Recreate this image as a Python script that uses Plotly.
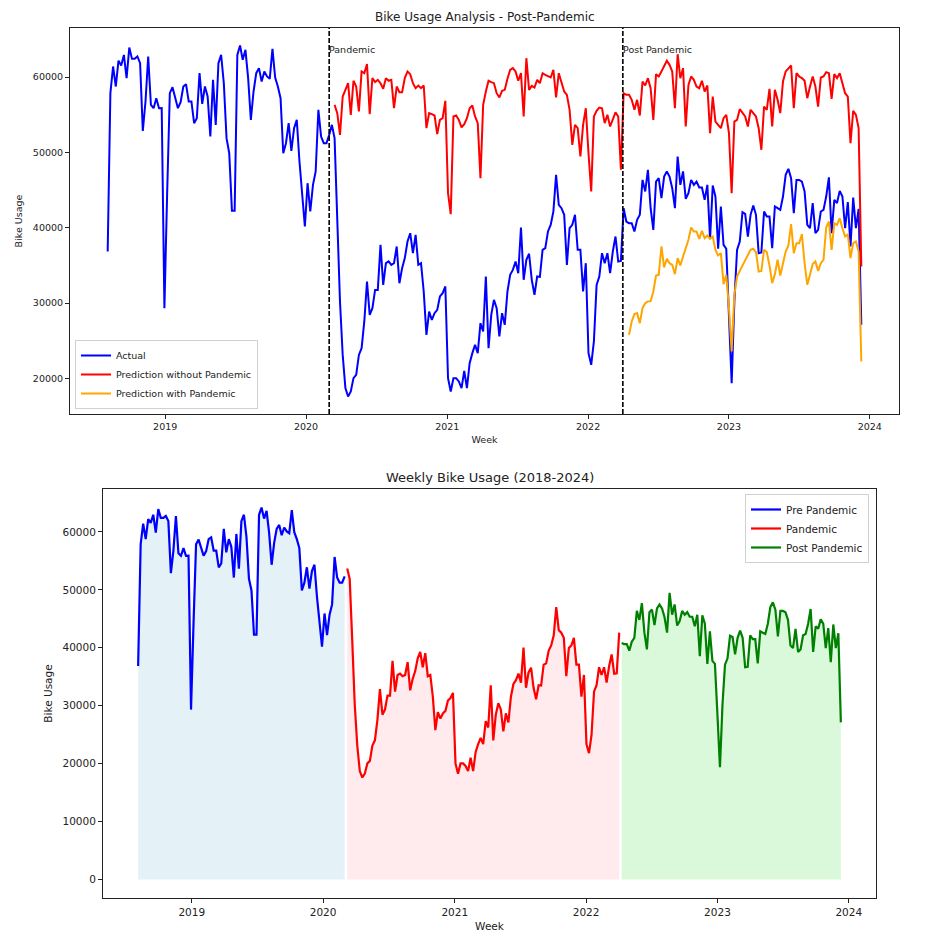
import pandas as pd
import plotly.graph_objects as go

# ---------------- data ----------------
start_week = "2018-08-05"

actual = [
    36850, 57875, 61420, 58760, 62200, 61550, 62960, 59870, 63940, 62430,
    62430, 62750, 61860, 52870, 56770, 62750, 56320, 55880, 57210, 55880,
    55900, 29320, 44370, 57870, 58670, 57430, 55880, 56680, 58760, 59070,
    56770, 56770, 53890, 54550, 60530, 56460, 58760, 57430, 52120, 59650,
    53670, 61860, 62960, 59200, 51900, 49900, 42250, 42250, 62960, 64200,
    62300, 63630, 59870, 54330, 58100, 60530, 61200, 59430, 60760, 60090,
    59780, 63760, 59960, 58760, 57210, 49900, 51230, 53890, 50220, 53230,
    54330, 48800, 43930, 40170, 45920, 42160, 45700, 47480, 55670, 52120,
    51230, 51230, 52340, 53670, 51900, 41270, 30210, 23120, 18700, 17600,
    18260, 20030, 20470, 23120, 24010, 27560, 32870, 28440, 29330, 31750,
    31750, 37730, 32420, 35300, 35530, 35080,
    35300, 37520, 32640, 34640, 35970, 38180, 39280, 36630, 39060, 35080,
    35300, 31540, 25780, 28880, 27770, 28660, 29100, 30880, 31320, 32210,
    20030, 18260, 20030, 20030, 19590, 18700, 21000, 18700, 22020, 23350,
    24450, 23350, 27330, 26230, 33530, 24010, 28440, 30430, 29330, 25570,
    28660, 27110, 31540, 33750, 34410, 35530, 33970, 40040, 33090, 35750,
    36550, 33090, 31100,
    33530, 33480, 37070, 37300, 39510, 40390, 42160, 47030, 43040, 42600,
    41720, 35080, 39940, 40390, 41720, 37070, 37070, 31540, 35300, 23350,
    21800, 24900, 32420, 33530, 36630, 35300, 36630, 33970, 36850, 38840,
    35530, 35600, 42600, 40830, 40610, 40610, 39510, 41050, 41720, 46360,
    44820, 47700, 42600, 39720, 46140, 46580, 43930, 46800, 47480, 46800,
    45260, 42600, 49470,
    45700, 47480, 43840, 44600, 46360, 45700, 46140, 45350, 45350, 43710,
    45700, 38530, 45610, 44150, 37210, 42830, 37730, 37210, 28440, 19370,
    30210, 37070, 38180, 42070, 41850, 38840, 41720, 42960, 41720, 36630,
    36720, 42160, 41500, 41500, 37300, 42830, 42600, 42380, 44150, 47030,
    47830, 46580, 41940, 46360, 46360, 46140, 44820, 40390, 39940, 43270,
    39280, 39720, 42160, 42380, 44150, 46690, 39280, 43710, 43270, 44900,
    44150, 39940, 43400, 37520, 44020, 39940, 42510, 27110,
]

pred_without_pandemic = [
    56320, 55220, 52340, 57430, 58320, 59200, 55000, 59520, 58760, 55450,
    60760, 60530, 61730, 55100, 59870, 59350, 59650, 59200, 58450, 59870,
    59520, 59650,
    55880, 58760, 58010, 58010, 59870, 60760, 60400, 59200, 58540, 58890,
    58540, 58890, 53230, 55220, 55100, 54910, 52430, 54330, 54550, 56850,
    44600, 41810, 54780, 54910, 54330, 53320, 53760, 54550, 55880, 56240,
    54780, 53890, 46580, 56320, 58100, 59520, 59350, 59200, 57870, 57300,
    58190, 58320, 59780, 60980, 61200, 60760, 59520, 60530, 54780, 62520,
    58320, 58850, 58630,
    59650, 59200, 60530, 60310, 60090, 59960, 60980, 57300, 60530, 59200,
    58100, 57650, 55670, 51010, 53670, 53230, 49470, 53670, 55880, 49900,
    44820, 54780, 55540, 55970, 55880, 53890, 55000, 53450, 54550, 55330,
    54780, 47700, 57870, 57650, 57650, 56990, 55670, 56990, 54910, 59430,
    58890, 59870, 58540, 54330, 60400, 60090, 60760, 61420, 62170, 61640,
    60760, 55880, 63050, 59870,
    61200, 53450, 58980, 60090, 59650, 58760, 58540, 59520, 58100, 58890,
    52560, 57430, 54110, 53670, 53230, 54550, 55000, 52560, 44600, 54110,
    54330, 55750, 55220, 54780, 53450, 55670, 55220, 54780, 53230, 50360,
    56090, 55670, 58450, 53450, 58320, 56990, 55220, 59430, 60760, 61110,
    61550, 55880, 60530, 60090,
    59870, 59520, 57210, 58760, 60090, 58760, 56090, 59960, 60090, 60660,
    60530, 57120, 60400, 59870, 60530, 59200, 57870, 57430, 51230, 55540,
    55000, 53230, 34860,
]

pred_with_pandemic = [
    25780, 27560, 28530, 28660, 27330, 29330, 29990, 30210, 30250, 31540,
    33660, 33750, 37520, 34730, 35880, 35300, 35080, 33840, 35970, 35000,
    36190, 37300, 38400, 40040, 39510, 39510, 38530, 39600, 38620, 38970,
    38530, 38840, 37070, 36320, 36630, 32510, 33750, 29330, 23570, 31100,
    33530, 34280, 35000, 35530, 36410, 37070, 37210, 36770, 34190, 34280,
    37070, 36770, 35000, 32640, 33840, 35750, 33660, 35080, 36850, 37650,
    40480, 36630, 37960, 37960,
    39150, 35300, 32420, 33750, 35200, 35530, 34280, 35300, 35750, 40040,
    40830, 37070, 40610, 40390, 41270, 39940, 38840, 39150, 35970, 37960,
    38180, 36850, 22240,
]

event_dates = ["2020-03-01", "2022-04-01"]
event_labels = ["Pandemic", "Post Pandemic"]

phase_names = ["Pre Pandemic", "Pandemic", "Post Pandemic"]
phase_breaks = ["2020-03-05", "2022-04-05"]
phase_colors = ["blue", "red", "green"]
phase_fills = ["rgba(173,216,230,0.33)", "rgba(255,192,203,0.33)", "rgba(144,238,144,0.33)"]

# ---------------- derived ----------------
weeks = pd.date_range(start_week, periods=len(actual), freq="7D")
s = pd.Series(actual, index=weeks)
pred_no = pd.Series(pred_without_pandemic, index=weeks[-len(pred_without_pandemic):])
pred_with = pd.Series(pred_with_pandemic, index=weeks[-len(pred_with_pandemic):])

span = weeks[-1] - weeks[0]
x_range = [weeks[0] - span * 0.05, weeks[-1] + span * 0.05]

top_vals = actual + pred_without_pandemic + pred_with_pandemic
tmin, tmax = min(top_vals), max(top_vals)
top_range = [tmin - 0.05 * (tmax - tmin), tmax + 0.05 * (tmax - tmin)]
bmax = max(actual)
bot_range = [-0.05 * bmax, bmax * 1.05]

b1, b2 = pd.Timestamp(phase_breaks[0]), pd.Timestamp(phase_breaks[1])
segments = [s[s.index < b1], s[(s.index >= b1) & (s.index < b2)], s[s.index >= b2]]

FONT = "DejaVu Sans"
W, H = 925, 941

fig = go.Figure()

# top chart
fig.add_trace(go.Scatter(x=s.index, y=s.values, mode="lines", name="Actual",
                         line=dict(color="blue", width=2), xaxis="x", yaxis="y", legend="legend"))
fig.add_trace(go.Scatter(x=pred_no.index, y=pred_no.values, mode="lines",
                         name="Prediction without Pandemic",
                         line=dict(color="red", width=2), xaxis="x", yaxis="y", legend="legend"))
fig.add_trace(go.Scatter(x=pred_with.index, y=pred_with.values, mode="lines",
                         name="Prediction with Pandemic",
                         line=dict(color="orange", width=2), xaxis="x", yaxis="y", legend="legend"))

# bottom chart fills
for seg, fc in zip(segments, phase_fills):
    fig.add_trace(go.Scatter(x=seg.index, y=seg.values, mode="none", fill="tozeroy",
                             fillcolor=fc, showlegend=False, hoverinfo="skip",
                             xaxis="x2", yaxis="y2"))
for seg, name, col in zip(segments, phase_names, phase_colors):
    fig.add_trace(go.Scatter(x=seg.index, y=seg.values, mode="lines", name=name,
                             line=dict(color=col, width=2.2), xaxis="x2", yaxis="y2",
                             legend="legend2"))

axis_common = dict(showline=True, linecolor="#222", linewidth=1, mirror=True,
                   ticks="outside", ticklen=4, tickcolor="#222", showgrid=False,
                   zeroline=False)

def px_x(p):
    return p / W

def px_y(p):
    return 1 - p / H

fig.update_layout(
    width=W, height=H,
    margin=dict(l=0, r=0, t=0, b=0),
    paper_bgcolor="white", plot_bgcolor="white",
    font=dict(family=FONT, color="#222"),
    xaxis=dict(domain=[px_x(70), px_x(899)], anchor="y", type="date", range=x_range,
               dtick="M12", tick0="2019-01-01", tickformat="%Y",
               tickfont=dict(size=9.5), title=dict(text="Week", font=dict(size=9.5), standoff=4),
               **axis_common),
    yaxis=dict(domain=[px_y(414), px_y(28)], anchor="x", range=top_range,
               dtick=10000, tick0=0, tickformat="d", tickfont=dict(size=9.5),
               title=dict(text="Bike Usage", font=dict(size=9.5), standoff=8),
               **axis_common),
    xaxis2=dict(domain=[px_x(103), px_x(876)], anchor="y2", type="date", range=x_range,
                dtick="M12", tick0="2019-01-01", tickformat="%Y",
                tickfont=dict(size=10.5), title=dict(text="Week", font=dict(size=10.5), standoff=6),
                **axis_common),
    yaxis2=dict(domain=[px_y(898), px_y(489)], anchor="x2", range=bot_range,
                dtick=10000, tick0=0, tickformat="d", tickfont=dict(size=10.5),
                title=dict(text="Bike Usage", font=dict(size=10.5), standoff=7),
                **axis_common),
    legend=dict(x=px_x(75), y=px_y(409), xanchor="left", yanchor="bottom",
                bgcolor="rgba(255,255,255,0.85)", bordercolor="#d0d0d0", borderwidth=1,
                font=dict(size=9.5), tracegroupgap=0, itemwidth=30),
    legend2=dict(x=px_x(869), y=px_y(494), xanchor="right", yanchor="top",
                 bgcolor="rgba(255,255,255,0.85)", bordercolor="#d0d0d0", borderwidth=1,
                 font=dict(size=10.5), tracegroupgap=0, itemwidth=30),
    showlegend=True,
)

annotations = [
    dict(text="Bike Usage Analysis - Post-Pandemic", x=(px_x(70) + px_x(899)) / 2, y=px_y(17),
         xref="paper", yref="paper", showarrow=False, font=dict(size=12), xanchor="center",
         yanchor="middle"),
    dict(text="Weekly Bike Usage (2018-2024)", x=(px_x(103) + px_x(876)) / 2, y=px_y(477),
         xref="paper", yref="paper", showarrow=False, font=dict(size=13), xanchor="center",
         yanchor="middle"),
]
shapes = []
for d, lab in zip(event_dates, event_labels):
    shapes.append(dict(type="line", xref="x", yref="y domain", x0=d, x1=d, y0=0, y1=1,
                       line=dict(color="black", width=1.6, dash="5px,2px")))
    annotations.append(dict(text=lab, x=d, y=0.945, xref="x", yref="y domain",
                            showarrow=False, xanchor="left", yanchor="middle",
                            font=dict(size=9.5), xshift=-2))

fig.update_layout(annotations=annotations, shapes=shapes)

fig.write_html("out.html", config={"displayModeBar": False},
               post_script="document.body.style.margin='0px';")
